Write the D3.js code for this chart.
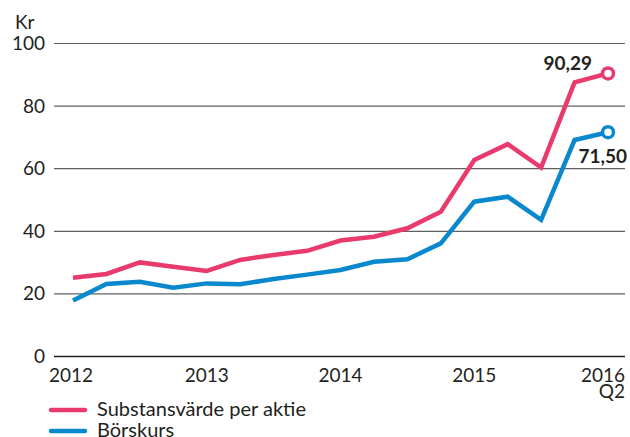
<!DOCTYPE html>
<html lang="sv">
<head>
<meta charset="UTF-8">
<title>Substansvärde och börskurs</title>
<script src="https://d3js.org/d3.v7.min.js"></script>
<style>
  body { margin: 0; background: #fff; }
  text { font-family: Lato, "Open Sans", sans-serif; fill: #231f20; }
  .grid line { stroke: #5f6062; stroke-width: 1.2; }
  .grid .domain { display: none; }
</style>
</head>
<body>
<svg width="630" height="437"></svg>
<script>
// quarterly points, first = 2012, last = 2016 Q2
const periods = [
  "2012", "2012-2", "2012-3", "2012-4",
  "2013", "2013-2", "2013-3", "2013-4",
  "2014", "2014-2", "2014-3", "2014-4",
  "2015", "2015-2", "2015-3", "2015-4",
  "2016-Q2"
];
const substansvarde = [25.0, 26.2, 29.9, 28.5, 27.2, 30.7, 32.3, 33.6, 36.9, 38.1, 40.8, 46.1, 62.6, 67.7, 60.2, 87.4, 90.29];
const borskurs = [17.7, 23.0, 23.7, 21.8, 23.2, 22.9, 24.6, 26.0, 27.5, 30.1, 30.9, 36.0, 49.3, 50.9, 43.5, 69.0, 71.50];
const yTicks = [0, 20, 40, 60, 80, 100];
const xTicks = ["2012", "2013", "2014", "2015", "2016-Q2"];
const xTickLabels = { "2012": ["2012"], "2013": ["2013"], "2014": ["2014"], "2015": ["2015"], "2016-Q2": ["2016", "Q2"] };
const seriesNames = ["Substansvärde per aktie", "Börskurs"];
const colors = ["#e93a6e", "#0a88cd"];
const endLabels = ["90,29", "71,50"];

const svg = d3.select("svg");
const gridLeft = 54, gridRight = 625;

const x = d3.scalePoint().domain(periods).range([73, 608]);
const y = d3.scaleLinear().domain([0, 100]).range([356, 43]);

// gridlines
const grid = svg.append("g")
  .attr("class", "grid")
  .attr("transform", `translate(${gridRight},0)`)
  .call(d3.axisLeft(y).tickValues(yTicks).tickSize(gridRight - gridLeft).tickFormat(""));
grid.selectAll(".tick line")
  .filter(d => d === 0)
  .style("stroke", "#231f20")
  .style("stroke-width", 1.5);

// y labels
svg.append("g")
  .selectAll("text")
  .data(yTicks)
  .join("text")
  .attr("x", 45)
  .attr("y", d => y(d) + 7)
  .attr("text-anchor", "end")
  .style("font-size", "19px")
  .text(d => d);

svg.append("text")
  .attr("x", 15)
  .attr("y", 29)
  .style("font-size", "19px")
  .text("Kr");

// x labels
const xl = svg.append("g")
  .selectAll("text")
  .data(xTicks)
  .join("text")
  .attr("x", d => d === "2016-Q2" ? gridRight : x(d) - (d === "2012" ? 2 : 0))
  .attr("y", 382)
  .attr("text-anchor", d => d === "2016-Q2" ? "end" : "middle")
  .style("font-size", "19px");
xl.selectAll("tspan")
  .data(d => xTickLabels[d].map(t => ({ t, d })))
  .join("tspan")
  .attr("x", function (o) { return d3.select(this.parentNode).attr("x"); })
  .attr("dy", (o, i) => i === 0 ? 0 : 16)
  .text(o => o.t);

// lines
const line = d3.line()
  .x((d, i) => x(periods[i]))
  .y(d => y(d));

[substansvarde, borskurs].forEach((vals, k) => {
  svg.append("path")
    .datum(vals)
    .attr("fill", "none")
    .attr("stroke", colors[k])
    .attr("stroke-width", 4.5)
    .attr("stroke-linejoin", "miter")
    .attr("d", line);

  const last = vals.length - 1;
  svg.append("circle")
    .attr("cx", x(periods[last]))
    .attr("cy", y(vals[last]))
    .attr("r", 5.5)
    .attr("fill", "#fff")
    .attr("stroke", colors[k])
    .attr("stroke-width", 3.5);
});

// end value labels
svg.append("text")
  .attr("x", x(periods[16]) - 16)
  .attr("y", y(substansvarde[16]) - 3)
  .attr("text-anchor", "end")
  .style("font-size", "19px")
  .style("font-weight", "bold")
  .text(endLabels[0]);

svg.append("text")
  .attr("x", 627)
  .attr("y", y(borskurs[16]) + 31)
  .attr("text-anchor", "end")
  .style("font-size", "19px")
  .style("font-weight", "bold")
  .text(endLabels[1]);

// legend
const legend = svg.append("g")
  .selectAll("g")
  .data(seriesNames)
  .join("g")
  .attr("transform", (d, i) => `translate(0,${410 + i * 21})`);
legend.append("line")
  .attr("x1", 51).attr("x2", 85)
  .attr("stroke", (d, i) => colors[i])
  .attr("stroke-width", 4.5)
  .attr("stroke-linecap", "round");
legend.append("text")
  .attr("x", 97)
  .attr("y", 6)
  .style("font-size", "20px")
  .text(d => d);
</script>
</body>
</html>
